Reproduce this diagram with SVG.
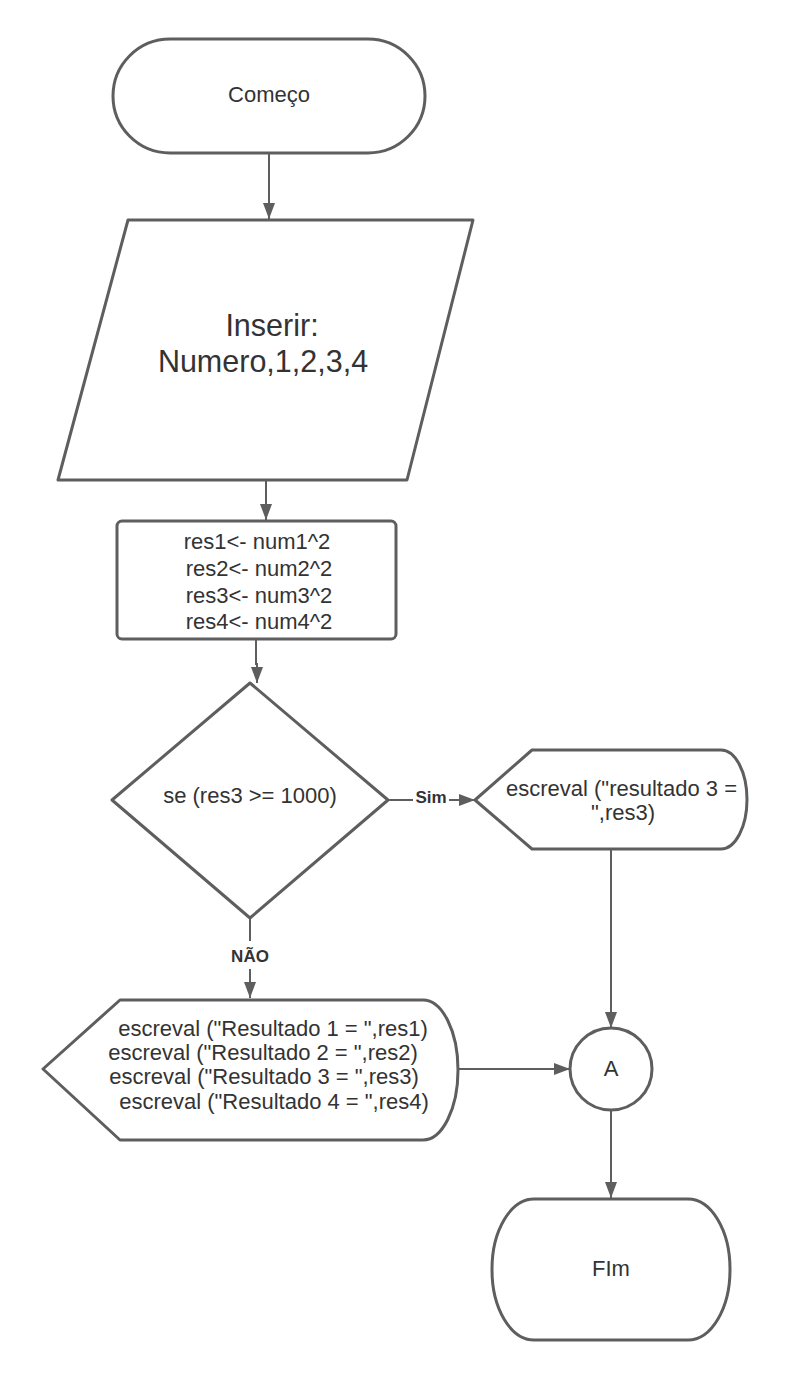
<svg xmlns="http://www.w3.org/2000/svg" width="786" height="1380" viewBox="0 0 786 1380">
<defs>
<marker id="arr" markerUnits="userSpaceOnUse" markerWidth="16" markerHeight="12" refX="16" refY="6" orient="auto">
<path d="M0,0 L16,6 L0,12 Z" fill="#5e5e5e"/>
</marker>
<style>
.sh{fill:#ffffff;stroke:#5e5e5e;stroke-width:3;stroke-linejoin:round}
.cn{fill:none;stroke:#5e5e5e;stroke-width:2}
.t{font-family:"Liberation Sans",Arial,sans-serif;font-size:22px;fill:#333333;text-anchor:middle}
.big{font-size:30.5px}
.lb{font-family:"Liberation Sans",Arial,sans-serif;font-size:17px;font-weight:bold;fill:#333333;text-anchor:middle}
</style>
</defs>
<rect width="786" height="1380" fill="#ffffff"/>
<g id="connectors">
<line class="cn" x1="269" y1="153" x2="269" y2="219" marker-end="url(#arr)"/>
<line class="cn" x1="266" y1="480" x2="266" y2="520" marker-end="url(#arr)"/>
<path class="cn" d="M256,639 V664 H257 V683" marker-end="url(#arr)"/>
<line class="cn" x1="388" y1="800" x2="413" y2="800"/>
<line class="cn" x1="449" y1="800" x2="475" y2="800" marker-end="url(#arr)"/>
<text class="lb" x="431" y="803">Sim</text>
<line class="cn" x1="250" y1="918" x2="250" y2="941"/>
<line class="cn" x1="250" y1="969" x2="250" y2="998" marker-end="url(#arr)"/>
<text class="lb" x="250" y="962">NÃO</text>
<line class="cn" x1="611" y1="849" x2="611" y2="1028" marker-end="url(#arr)"/>
<line class="cn" x1="458" y1="1069" x2="570" y2="1069" marker-end="url(#arr)"/>
<line class="cn" x1="611" y1="1110" x2="611" y2="1198" marker-end="url(#arr)"/>
</g>
<g id="inicio">
<rect class="sh" x="113" y="39" width="312" height="114" rx="57" ry="57"/>
<text class="t" x="269" y="102">Começo</text>
</g>
<g id="entrada">
<polygon class="sh" points="128,220 473,220 407,480 58,480"/>
<text class="t big" x="272" y="336">Inserir:</text>
<text class="t big" x="263" y="372">Numero,1,2,3,4</text>
</g>
<g id="processo">
<rect class="sh" x="117" y="521" width="279" height="118" rx="5" ry="5"/>
<text class="t" x="257" y="549">res1&lt;- num1^2</text>
<text class="t" x="259" y="576">res2&lt;- num2^2</text>
<text class="t" x="259" y="603">res3&lt;- num3^2</text>
<text class="t" x="259" y="629">res4&lt;- num4^2</text>
</g>
<g id="decisao">
<polygon class="sh" points="250,683 388,800 250,918 112,800"/>
<text class="t" x="250" y="803">se (res3 &gt;= 1000)</text>
</g>
<g id="exibir-sim">
<path class="sh" d="M475,800 L532,750 L721,750 A26,49.5 0 0 1 721,849 L532,849 Z"/>
<text class="t" x="621.5" y="796">escreval ("resultado 3 =</text>
<text class="t" x="623" y="820">",res3)</text>
</g>
<g id="exibir-nao">
<path class="sh" d="M43,1069 L120,1000 L423,1000 A35,70 0 0 1 423,1140 L120,1140 Z"/>
<text class="t" x="273" y="1036">escreval ("Resultado 1 = ",res1)</text>
<text class="t" x="263" y="1060">escreval ("Resultado 2 = ",res2)</text>
<text class="t" x="264" y="1084">escreval ("Resultado 3 = ",res3)</text>
<text class="t" x="274" y="1109">escreval ("Resultado 4 = ",res4)</text>
</g>
<g id="conector-a">
<circle class="sh" cx="611" cy="1069" r="41"/>
<text class="t" x="611" y="1076">A</text>
</g>
<g id="fim">
<rect class="sh" x="492" y="1199" width="238" height="141" rx="42" ry="70"/>
<text class="t" x="611" y="1276">FIm</text>
</g>
</svg>
